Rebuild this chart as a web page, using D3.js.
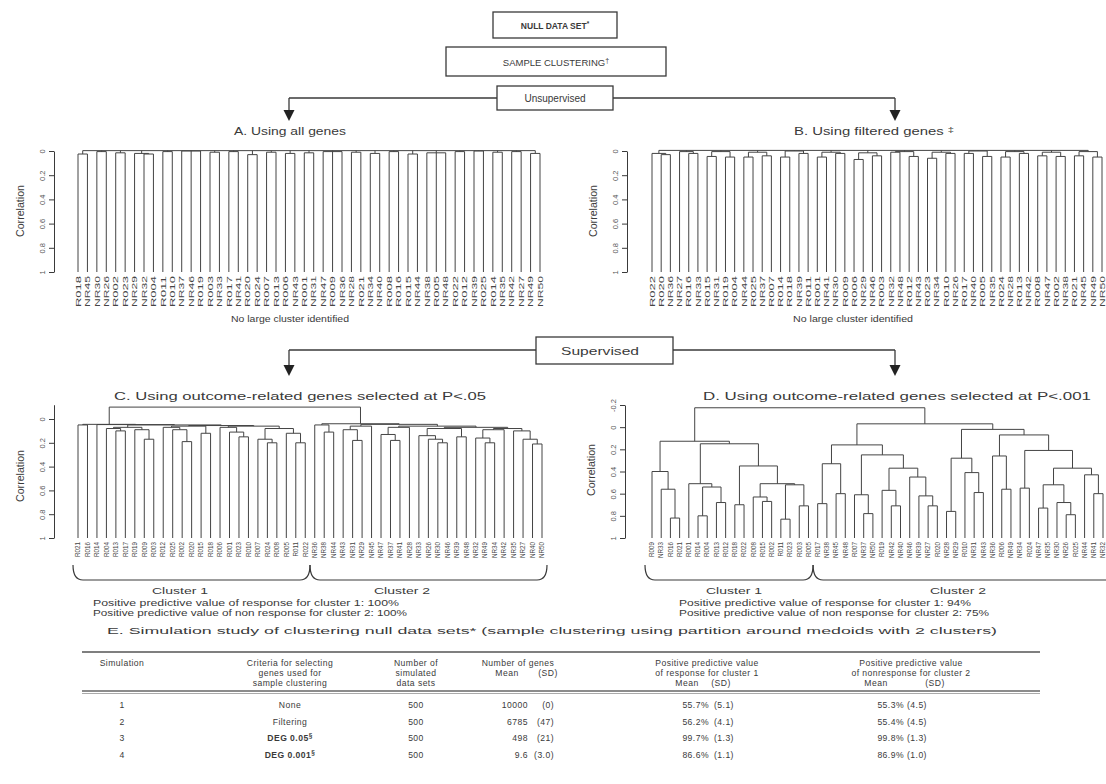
<!DOCTYPE html>
<html><head><meta charset="utf-8">
<script src="https://cdn.jsdelivr.net/npm/d3@7"></script>
<style>
body{margin:0;background:#fff}
svg{display:block}
text{font-family:"Liberation Sans",Arial,sans-serif;fill:#3a3a3a}
</style>
</head><body>
<svg id="c" width="1106" height="784"></svg>
<script>
// ---------------- DATA ----------------
const ticks01 = [0, 0.2, 0.4, 0.6, 0.8, 1];
const ticksD = [-0.2, 0, 0.2, 0.4, 0.6, 0.8, 1];

const leavesA = ["R018","NR45","NR30","NR26","R002","R023","NR29","NR32","R004","R011","R010","NR37","NR46","R019","R003","NR33","R017","NR41","R020","R024","R007","R013","R006","NR43","R001","NR31","NR47","R009","NR36","NR28","R021","NR34","NR40","R008","R016","R015","NR44","NR38","R005","NR48","R022","R012","NR39","R025","R014","NR35","NR42","NR27","NR49","NR50"];
const leavesB = ["R022","R020","NR36","NR27","R016","NR33","R015","NR31","R019","R004","NR44","R025","NR37","R007","R014","R018","NR39","R011","R001","NR41","NR30","R009","R006","NR29","NR46","R003","NR32","NR48","R012","NR43","R023","NR34","R010","NR26","R017","NR40","R005","NR35","R024","NR28","R013","NR42","R008","NR47","R002","NR38","R021","NR45","NR49","NR50"];
const leavesC = ["R021","R016","R014","R004","R013","R017","R019","R009","R003","R012","R025","R002","R020","R015","R018","R006","R001","R023","R010","R007","R024","R008","R005","R011","R022",
                 "NR36","NR38","NR44","NR43","NR31","NR29","NR45","NR47","NR37","NR41","NR28","NR33","NR26","NR30","NR46","NR39","NR48","NR32","NR49","NR34","NR42","NR35","NR27","NR40","NR50"];
const leavesD = ["R009","NR33","R016","R021","R001","R014","R004","R013","R012","R018","R022","R008","R015","R002","R011","R023","R003","R005",
                 "R017","NR38","NR45","NR48","R007","NR37","NR50","R019","NR42","NR40","NR46","NR39","NR27","R020","NR28","NR29","R010","NR31","NR43","NR36","R006","NR49","NR34","R024","NR47","NR35","NR30","NR26","R025","NR44","NR41","NR32"];

// trees: [mergeCorrelation, child, child, ...]; "L" = next leaf of the matching leaves array
const treeA = [-0.003,
  [0.025,"L","L"],[0.005,"L","L"],[0.015,"L","L"],[0.02,"L",[0.025,"L","L"]],[0.005,"L","L"],
  [0.0,"L","L","L"],[0.01,"L","L"],[0.005,"L","L"],[0.03,"L","L"],[0.01,"L","L"],[0.02,"L","L"],
  [0.015,"L","L"],[0.005,"L","L","L"],[0.01,"L","L"],[0.02,"L","L"],[0.005,"L","L"],[0.025,"L","L"],
  [0.015,"L","L","L"],[0.005,"L","L"],[0.0,"L","L"],[0.01,"L","L"],[0.005,"L","L"],[0.02,"L","L"]];
const treeB = [-0.005,
  [0.02,"L",[0.03,"L","L"]],[0.005,"L",[0.02,"L","L"]],[0.005,[0.045,"L","L"],[0.05,"L","L"]],
  [0.01,[0.05,"L","L"],[0.04,"L","L"]],[0.0,[0.05,"L","L"],[0.02,"L","L"]],[0.01,[0.05,"L","L"],[0.02,"L","L"]],
  [0.015,[0.07,"L","L"],[0.04,"L","L"]],[0.005,[0.01,"L","L"],[0.045,"L","L"]],[0.01,[0.06,"L","L"],[0.02,"L","L"]],
  [0.0,[0.02,"L","L"],[0.045,"L","L"]],[0.005,[0.05,"L","L"],[0.02,"L","L"]],[0.01,[0.04,"L","L"],[0.045,"L","L"]],
  [0.005,[0.04,"L","L"],[0.05,"L","L"]]];
const treeC = [-0.10,
  [0.045,[0.05,"L","L"],[0.047,"L",[0.05,
      [0.07,[0.08,"L",[0.10,"L","L"]],[0.09,"L",[0.17,"L","L"]]],
      [0.055,[0.06,[0.07,"L",[0.09,"L",[0.19,"L","L"]]],[0.12,"L","L"]],
        [0.06,[0.07,"L",[0.11,"L",[0.15,"L","L"]]],
              [0.08,[0.17,"L",[0.20,"L","L"]],[0.12,"L",[0.20,"L","L"]]]]]]]],
  [0.04,[0.05,"L",[0.11,"L","L"]],
    [0.045,[0.06,[0.09,"L",[0.18,"L","L"]],"L"],
      [0.06,[0.07,[0.13,"L",[0.18,"L","L"]],"L"],
        [0.07,[0.08,[0.14,"L",[0.17,"L",[0.20,"L","L"]]],[0.15,"L","L"]],
          [0.08,[0.09,[0.16,"L",[0.20,"L","L"]],"L"],[0.10,"L",[0.17,"L",[0.21,"L","L"]]]]]]]]];
const treeD = [-0.175,
  [0.127,
    [0.40,"L",[0.56,"L",[0.82,"L","L"]]],
    [0.15,
      [0.51,"L",[0.54,[0.80,"L","L"],[0.68,"L","L"]]],
      [0.35,[0.70,"L","L"],[0.51,[0.63,"L",[0.67,"L","L"]],[0.52,[0.83,"L","L"],[0.71,"L","L"]]]]]],
  [-0.03,
    [0.16,
      [0.33,[0.69,"L","L"],[0.60,"L","L"]],
      [0.25,[0.61,"L",[0.78,"L","L"]],[0.37,[0.57,"L",[0.71,"L","L"]],[0.45,"L",[0.62,"L",[0.71,"L","L"]]]]]],
    [0.02,
      [0.28,[0.76,"L","L"],[0.41,"L",[0.59,"L","L"]]],
      [0.07,[0.26,"L",[0.56,"L","L"]],
        [0.21,[0.55,"L","L"],[0.37,[0.52,[0.73,"L","L"],[0.68,"L",[0.79,"L","L"]]],[0.43,"L",[0.60,"L","L"]]]]]]]];

const clusterSizeC = [25, 25];
const clusterSizeD = [18, 32];
const ppvC = ["Positive predictive value of response for cluster 1: 100%", "Positive predictive value of non response for cluster 2: 100%"];
const ppvD = ["Positive predictive value of response for cluster 1:  94%", "Positive predictive value of non response for cluster 2:  75%"];

const tableSim = ["1","2","3","4"];
const tableCriteria = ["None","Filtering","DEG 0.05","DEG 0.001"];
const tableCriteriaSup = ["","","§","§"];
const tableNsets = ["500","500","500","500"];
const tableGenesMean = ["10000","6785","498","9.6"];
const tableGenesSD = ["(0)","(47)","(21)","(3.0)"];
const tablePPV1 = ["55.7%","56.2%","99.7%","86.6%"];
const tablePPV1SD = ["(5.1)","(4.1)","(1.3)","(1.1)"];
const tablePPV2 = ["55.3%","55.4%","99.8%","86.9%"];
const tablePPV2SD = ["(4.5)","(4.5)","(1.3)","(1.0)"];

// ---------------- DRAWING ----------------
const svg = d3.select("#c");
const ink = "#3a3a3a";

function txt(x, y, s, o = {}) {
  const t = svg.append("text").attr("x", x).attr("y", y)
    .attr("text-anchor", o.anchor || "middle")
    .attr("font-size", o.size || 9)
    .attr("font-weight", o.bold ? "bold" : null)
    .attr("letter-spacing", o.ls || null)
    .text(s);
  if (o.w) t.attr("textLength", o.w).attr("lengthAdjust", "spacingAndGlyphs");
  if (o.fill) t.style("fill", o.fill);
  if (o.sup) t.append("tspan").attr("dy", -3.5).attr("font-size", (o.size || 9) * 0.75).text(o.sup);
  return t;
}
function box(x, y, w, h) {
  svg.append("rect").attr("x", x).attr("y", y).attr("width", w).attr("height", h)
    .attr("fill", "#fff").attr("stroke", ink).attr("stroke-width", 1.3);
}
function arrowDown(x, y0, y1) {
  svg.append("line").attr("x1", x).attr("x2", x).attr("y1", y0).attr("y2", y1 - 8)
    .attr("stroke", ink).attr("stroke-width", 1.3);
  svg.append("path").attr("d", `M${x - 5.5},${y1 - 11}L${x + 5.5},${y1 - 11}L${x},${y1}Z`).attr("fill", "#222");
}
function hline(x0, x1, y, w = 1.3, c = ink) {
  svg.append("line").attr("x1", x0).attr("x2", x1).attr("y1", y).attr("y2", y)
    .attr("stroke", c).attr("stroke-width", w);
}

function drawAxis(x, y, ticks, label, labelY) {
  const g = svg.append("g").attr("transform", `translate(${x},0)`);
  g.call(d3.axisLeft(y).tickValues(ticks).tickFormat(d => String(d)).tickSize(5).tickSizeOuter(0));
  g.selectAll("path,line").attr("stroke", ink);
  g.selectAll(".tick text").attr("x", 0).attr("dy", 0).attr("text-anchor", "middle")
    .attr("transform", "translate(-9,0) rotate(-90)")
    .attr("font-size", 7.5).attr("font-family", "Liberation Sans, Arial, sans-serif").style("fill", "#555");
  svg.append("text").attr("transform", `translate(${x - 30},${labelY}) rotate(-90)`)
    .attr("text-anchor", "middle").attr("font-size", 10)
    .attr("textLength", 52).attr("lengthAdjust", "spacingAndGlyphs").text(label);
}

function drawDendro(tree, labels, x0, x1, y, labelSize, labelLen) {
  const root = d3.hierarchy(tree, d => Array.isArray(d) ? d.slice(1) : null);
  const lv = root.leaves();
  const xs = d3.scalePoint().domain(d3.range(lv.length)).range([x0, x1]);
  lv.forEach((n, i) => { n.px = xs(i); n.label = labels[i]; });
  root.eachAfter(n => {
    if (n.children) {
      n.px = (n.children[0].px + n.children[n.children.length - 1].px) / 2;
      n.h = n.data[0];
    } else n.h = 1;
  });
  const p = d3.path();
  root.each(n => {
    if (!n.children) return;
    const yy = y(n.h);
    p.moveTo(n.children[0].px, yy); p.lineTo(n.children[n.children.length - 1].px, yy);
    n.children.forEach(c => { p.moveTo(c.px, yy); p.lineTo(c.px, y(c.h)); });
  });
  const g = svg.append("g");
  g.append("path").attr("d", p.toString()).attr("fill", "none").attr("stroke", "#444").attr("stroke-width", 1);
  const t = g.selectAll("text").data(lv).join("text")
    .attr("transform", d => `translate(${d.px + labelSize * 0.36},${y(1) + 4}) rotate(-90)`)
    .attr("text-anchor", "end").attr("font-size", labelSize).style("fill", "#444").text(d => d.label);
  if (labelLen) t.attr("textLength", labelLen).attr("lengthAdjust", "spacingAndGlyphs");
  return xs;
}

function brace(xa, xb, yTop, yBot) {
  const r = Math.min(10, (xb - xa) / 4);
  svg.append("path")
    .attr("d", `M${xa},${yTop}Q${xa},${yBot} ${xa + r},${yBot}L${xb - r},${yBot}Q${xb},${yBot} ${xb},${yTop}`)
    .attr("fill", "none").attr("stroke", ink).attr("stroke-width", 1.2);
}

// ---- top flow boxes ----
box(493, 12, 124, 26);
txt(555, 29, "NULL DATA SET", { size: 8.5, bold: true, sup: "*" });
box(446, 47, 220, 29);
txt(556, 66, "SAMPLE CLUSTERING", { size: 9.5, sup: "†" });
hline(289, 895, 98);
box(497, 86, 116, 24);
txt(555, 102, "Unsupervised", { size: 10 });
arrowDown(289, 98, 121);
arrowDown(895, 98, 121);

// ---- Panel A ----
const yA = d3.scaleLinear().domain([0, 1]).range([151, 272]);
txt(290, 135, "A. Using all genes", { size: 10.5, w: 112 });
drawAxis(54, yA, ticks01, "Correlation", 211);
drawDendro(treeA, leavesA, 78, 540, yA, 7.6, 31);
txt(290, 322, "No large cluster identified", { size: 9, w: 118 });

// ---- Panel B ----
const yB = d3.scaleLinear().domain([0, 1]).range([151, 272]);
txt(874, 135, "B. Using filtered genes ", { size: 10.5, w: 160, sup: "‡" });
drawAxis(627, yB, ticks01, "Correlation", 211);
drawDendro(treeB, leavesB, 652, 1102, yB, 7.6, 31);
txt(853, 322, "No large cluster identified", { size: 9, w: 120 });

// ---- Supervised ----
hline(289, 895, 350);
box(536, 337, 137, 27);
txt(600, 355, "Supervised", { size: 10.5, w: 78 });
arrowDown(289, 350, 376);
arrowDown(895, 350, 376);

// ---- Panel C ----
const yC = d3.scaleLinear().domain([-0.12, 1]).range([419 - 0.12 * 119, 538]);
txt(300, 400, "C. Using outcome-related genes selected at P<.05", { size: 10.5, w: 372 });
drawAxis(54, yC, ticks01, "Correlation", 476);
const xsC = drawDendro(treeC, leavesC, 78, 542, yC, 6.3);
const cutC = (xsC(clusterSizeC[0] - 1) + xsC(clusterSizeC[0])) / 2;
brace(xsC(0) - 5, cutC, 565, 580);
brace(cutC, xsC(leavesC.length - 1) + 5, 565, 580);
txt(180, 594, "Cluster 1", { size: 9.5, w: 56 });
txt(402, 594, "Cluster 2", { size: 9.5, w: 56 });
ppvC.forEach((s, i) => txt(93, 606 + i * 10, s, { size: 8.6, anchor: "start", w: [306, 314][i] }));

// ---- Panel D ----
const yD = d3.scaleLinear().domain([-0.2, 1]).range([405, 538]);
txt(897, 400, "D. Using outcome-related genes selected at P<.001", { size: 10.5, w: 388 });
drawAxis(625, yD, ticksD, "Correlation", 470);
const xsD = drawDendro(treeD, leavesD, 652, 1103, yD, 6.3);
const cutD = (xsD(clusterSizeD[0] - 1) + xsD(clusterSizeD[0])) / 2;
brace(xsD(0) - 7, cutD, 565, 580);
brace(cutD, xsD(leavesD.length - 1) + 25, 565, 580);
txt(734, 594, "Cluster 1", { size: 9.5, w: 56 });
txt(958, 594, "Cluster 2", { size: 9.5, w: 56 });
ppvD.forEach((s, i) => txt(679, 606 + i * 10, s, { size: 8.6, anchor: "start", w: [292, 310][i] }));

// ---- Table E ----
txt(552, 634, "E.  Simulation study of clustering null data sets* (sample clustering using partition around medoids with 2 clusters)", { size: 9.2, w: 890 });
hline(82, 1040, 652, 1.3, "#555");
const hs = 8.6, ls = 0.45;
const colSim = 122, colCrit = 290, colSets = 416, colP1 = 707, colP2 = 911;
const hy = [666, 676, 686];
txt(colSim, hy[0], "Simulation", { size: hs, ls });
["Criteria for selecting", "genes used for", "sample clustering"].forEach((s, i) => txt(colCrit, hy[i], s, { size: hs, ls }));
["Number of", "simulated", "data sets"].forEach((s, i) => txt(colSets, hy[i], s, { size: hs, ls }));
txt(518, hy[0], "Number of genes", { size: hs, ls });
txt(507, hy[1], "Mean", { size: hs, ls });
txt(548, hy[1], "(SD)", { size: hs, ls });
txt(colP1, hy[0], "Positive predictive value", { size: hs, ls });
txt(colP1, hy[1], "of response for cluster 1", { size: hs, ls });
txt(colP1 - 20, hy[2], "Mean", { size: hs, ls });
txt(colP1 + 14, hy[2], "(SD)", { size: hs, ls });
txt(colP2, hy[0], "Positive predictive value", { size: hs, ls });
txt(colP2, hy[1], "of nonresponse for cluster 2", { size: hs, ls });
txt(colP2 - 35, hy[2], "Mean", { size: hs, ls });
txt(colP2 + 24, hy[2], "(SD)", { size: hs, ls });
hline(82, 1040, 691, 1.3, "#666");
hline(82, 1040, 693.5, 1, "#aaa");
const rowY = d3.scalePoint().domain(d3.range(tableSim.length)).range([708, 758]);
tableSim.forEach((s, i) => {
  const y = rowY(i);
  txt(colSim, y, s, { size: hs, ls });
  txt(colCrit, y, tableCriteria[i], { size: hs, ls, bold: i >= 2, sup: tableCriteriaSup[i] || null });
  txt(colSets, y, tableNsets[i], { size: hs, ls });
  txt(528, y, tableGenesMean[i], { size: hs, ls, anchor: "end" });
  txt(554, y, tableGenesSD[i], { size: hs, ls, anchor: "end" });
  txt(709, y, tablePPV1[i], { size: hs, ls, anchor: "end" });
  txt(714, y, tablePPV1SD[i], { size: hs, ls, anchor: "start" });
  txt(904, y, tablePPV2[i], { size: hs, ls, anchor: "end" });
  txt(907, y, tablePPV2SD[i], { size: hs, ls, anchor: "start" });
});
</script>
</body></html>
